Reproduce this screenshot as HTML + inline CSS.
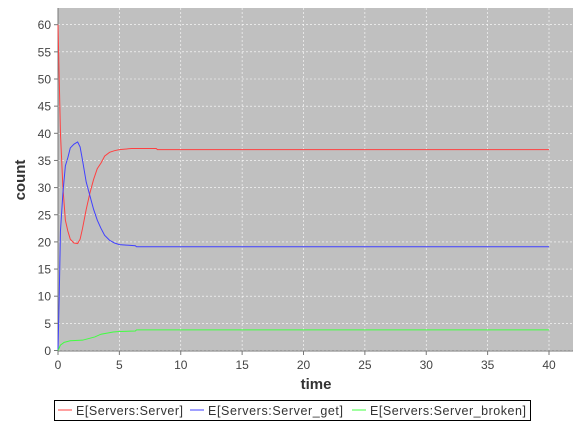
<!DOCTYPE html>
<html><head><meta charset="utf-8"><style>
body{margin:0;background:#fff;}
svg{font-family:"Liberation Sans",sans-serif;}
</style></head><body>
<svg width="585" height="423" id="c">
<rect x="58" y="8" width="515" height="343" fill="#c0c0c0"/>
<g id="grid"></g><g id="axes"></g><g id="series"></g>
<text x="316" y="389" font-size="15" font-weight="bold" text-anchor="middle" fill="#333">time</text>
<text transform="translate(25,180) rotate(-90)" font-size="15" font-weight="bold" text-anchor="middle" fill="#333">count</text>
<g>
<rect x="54.5" y="400.5" width="476" height="20" fill="#fff" stroke="#000"/>
<line x1="58" y1="410" x2="72" y2="410" stroke="#ff4040"/>
<text x="76" y="415" font-size="12.5" fill="#333" textLength="107">E[Servers:Server]</text>
<line x1="190" y1="410" x2="204" y2="410" stroke="#4040ff"/>
<text x="208" y="415" font-size="12.5" fill="#333" textLength="135">E[Servers:Server_get]</text>
<line x1="352" y1="410" x2="366" y2="410" stroke="#40ff40"/>
<text x="370" y="415" font-size="12.5" fill="#333" textLength="156">E[Servers:Server_broken]</text>
</g>
</svg>
<script>
const xTicks=[0,5,10,15,20,25,30,35,40];
const yTicks=[0,5,10,15,20,25,30,35,40,45,50,55,60];
const redT=[0,0.2,0.4,0.6,0.8,1.0,1.3,1.6,1.8,2.0,2.3,2.6,2.9,3.2,3.5,3.8,4.2,4.6,5,6,8,8.1,40];
const redV=[60,40,30,24,22,20.5,19.8,19.7,20.5,22.5,26,29,31.5,33.5,34.5,35.8,36.5,36.8,37,37.2,37.2,37,37];
const blueT=[0,0.1,0.2,0.4,0.6,0.8,1.0,1.3,1.6,1.8,2.0,2.3,2.6,2.9,3.2,3.5,3.8,4.2,4.6,5,6.3,6.4,40];
const blueV=[0,10,22,29,34,35.5,37.3,38,38.4,37.5,35,31,28.5,26,24,22.5,21.2,20.3,19.8,19.5,19.3,19.1,19.1];
const greenT=[0,0.2,0.5,1,2,2.5,3,3.5,4,4.5,5,6.3,6.4,40];
const greenV=[0,1,1.5,1.8,1.9,2.2,2.5,3,3.2,3.4,3.5,3.6,3.8,3.8];
const X=v=>58+v*12.275, Y=v=>350.5-v*5.43;
const NS="http://www.w3.org/2000/svg";
function mk(t,a,p){const e=document.createElementNS(NS,t);for(const k in a)e.setAttribute(k,a[k]);p.appendChild(e);return e;}
const grid=document.getElementById('grid'),axes=document.getElementById('axes'),ser=document.getElementById('series');
xTicks.forEach(t=>{
 const l=mk('line',{x1:X(t),x2:X(t),y1:8,y2:351,stroke:'#fff','stroke-dasharray':'2,2','stroke-width':0.6},grid);
 
 
 mk('line',{x1:X(t),x2:X(t),y1:351,y2:355,stroke:'#777'},axes);
 const s=mk('text',{x:X(t),y:369,'font-size':12,'text-anchor':'middle',fill:'#444'},axes);s.textContent=t;
 
 
});
yTicks.forEach(t=>{
 const l=mk('line',{x1:58,x2:573,y1:Y(t),y2:Y(t),stroke:'#fff','stroke-dasharray':'2,2','stroke-width':0.6},grid);
 
 
 mk('line',{x1:54,x2:58,y1:Y(t),y2:Y(t),stroke:'#777'},axes);
 const s=mk('text',{x:51,y:Y(t)+4.5,'font-size':12,'text-anchor':'end',fill:'#444'},axes);s.textContent=t;
 
 
});
mk('line',{x1:58,x2:58,y1:8,y2:351,stroke:'#777'},axes);
mk('line',{x1:58,x2:573,y1:351,y2:351,stroke:'#777'},axes);
[[redT,redV,'#ff4040','server-line'],[blueT,blueV,'#4040ff','server-get-line'],[greenT,greenV,'#40ff40','server-broken-line']].forEach(([t,v,c,n])=>{
 const p=mk('polyline',{points:t.map((x,i)=>X(x)+','+Y(v[i])).join(' '),fill:'none',stroke:c,'stroke-width':1},ser);
 
 
});
</script>
</body></html>
